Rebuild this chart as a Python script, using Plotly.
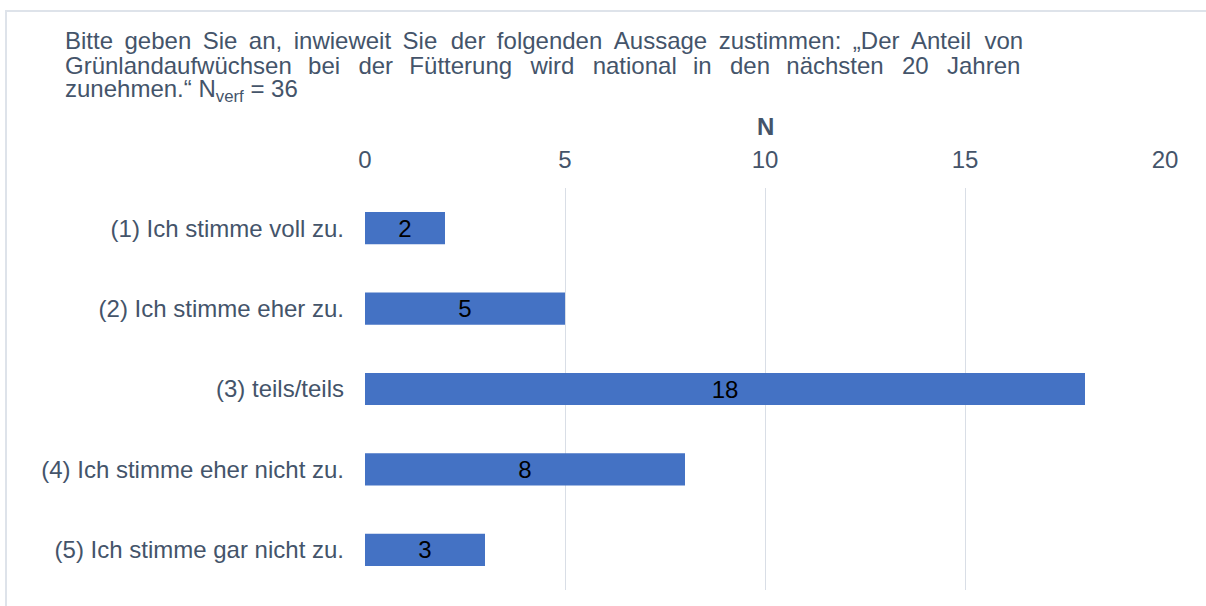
import plotly.graph_objects as go

# Survey answers (N = number of respondents)
categories = [
    "(1) Ich stimme voll zu.",
    "(2) Ich stimme eher zu.",
    "(3) teils/teils",
    "(4) Ich stimme eher nicht zu.",
    "(5) Ich stimme gar nicht zu.",
]
counts = [2, 5, 18, 8, 3]
x_ticks = [0, 5, 10, 15, 20]

# Question text, one entry per printed line; gaps widened to justify the block
title_words = [
    ["Bitte", "geben", "Sie", "an,", "inwieweit", "Sie", "der", "folgenden",
     "Aussage", "zustimmen:", "„Der", "Anteil", "von"],
    ["Grünlandaufwüchsen", "bei", "der", "Fütterung", "wird", "national",
     "in", "den", "nächsten", "20", "Jahren"],
    ["zunehmen.“", "N<sub>verf</sub>", "=", "36"],
]
title_gaps = [" \u2009", " \u2009\u2009", " "]
title_extra = [2, 6, 0]  # gaps that get an additional hair space

FONT = "Liberation Sans, Arial, sans-serif"
TEXT = "#44546A"
GRID = "#D9DEE6"
FS = 24

W, H = 1206, 606
L, R, T, B = 365, 41, 188, 16
pw, ph = W - L - R, H - T - B


def px(x):
    return (x - L) / pw


def py(y):
    return (H - B - y) / ph


def justify(words, gap, extra):
    out = words[0]
    for k, w in enumerate(words[1:]):
        step = len(words) - 1
        # spread the additional hair spaces evenly over the line
        add = "\u200a" if extra and (k * extra) // step != ((k + 1) * extra) // step else ""
        out += gap + add + w
    return out


fig = go.Figure(
    go.Bar(
        x=counts,
        y=categories,
        orientation="h",
        marker=dict(color="#4472C4", line=dict(width=0)),
        text=[str(c) for c in counts],
        textposition="inside",
        insidetextanchor="middle",
        textangle=0,
        constraintext="none",
        textfont=dict(color="black", size=FS, family=FONT),
        width=0.4,
        hoverinfo="skip",
    )
)

fig.update_layout(
    width=W,
    height=H,
    margin=dict(l=L, r=R, t=T, b=B),
    paper_bgcolor="white",
    plot_bgcolor="white",
    showlegend=False,
    font=dict(family=FONT, color=TEXT, size=FS),
    xaxis=dict(
        range=[0, 20],
        tickvals=x_ticks,
        side="top",
        showgrid=True,
        gridcolor=GRID,
        gridwidth=1.2,
        zeroline=False,
        showline=False,
        ticks="",
        ticklabelstandoff=14,
        tickfont=dict(size=FS, color=TEXT),
    ),
    yaxis=dict(
        autorange="reversed",
        showgrid=False,
        zeroline=False,
        showline=False,
        ticks="",
        ticklabelstandoff=20,
        tickfont=dict(size=FS, color=TEXT),
    ),
)

# Axis title above the tick labels
fig.add_annotation(
    xref="x", yref="paper", x=10, y=py(127),
    xanchor="center", yanchor="middle",
    text="<b>N</b>", showarrow=False,
    font=dict(size=FS, color=TEXT, family=FONT),
)

for i, words in enumerate(title_words):
    fig.add_annotation(
        xref="paper", yref="paper",
        x=px(63), y=py(41 + 25 * i),
        xanchor="left", yanchor="middle",
        text=justify(words, title_gaps[i], title_extra[i]), showarrow=False,
        font=dict(size=FS, color=TEXT, family=FONT),
    )

# Frame around the chart area
fig.add_shape(
    type="rect", xref="paper", yref="paper",
    x0=px(6), x1=px(1260), y0=py(11), y1=py(700),
    line=dict(color="#DEE3EA", width=2), layer="below",
)

fig.write_html("out.html")
